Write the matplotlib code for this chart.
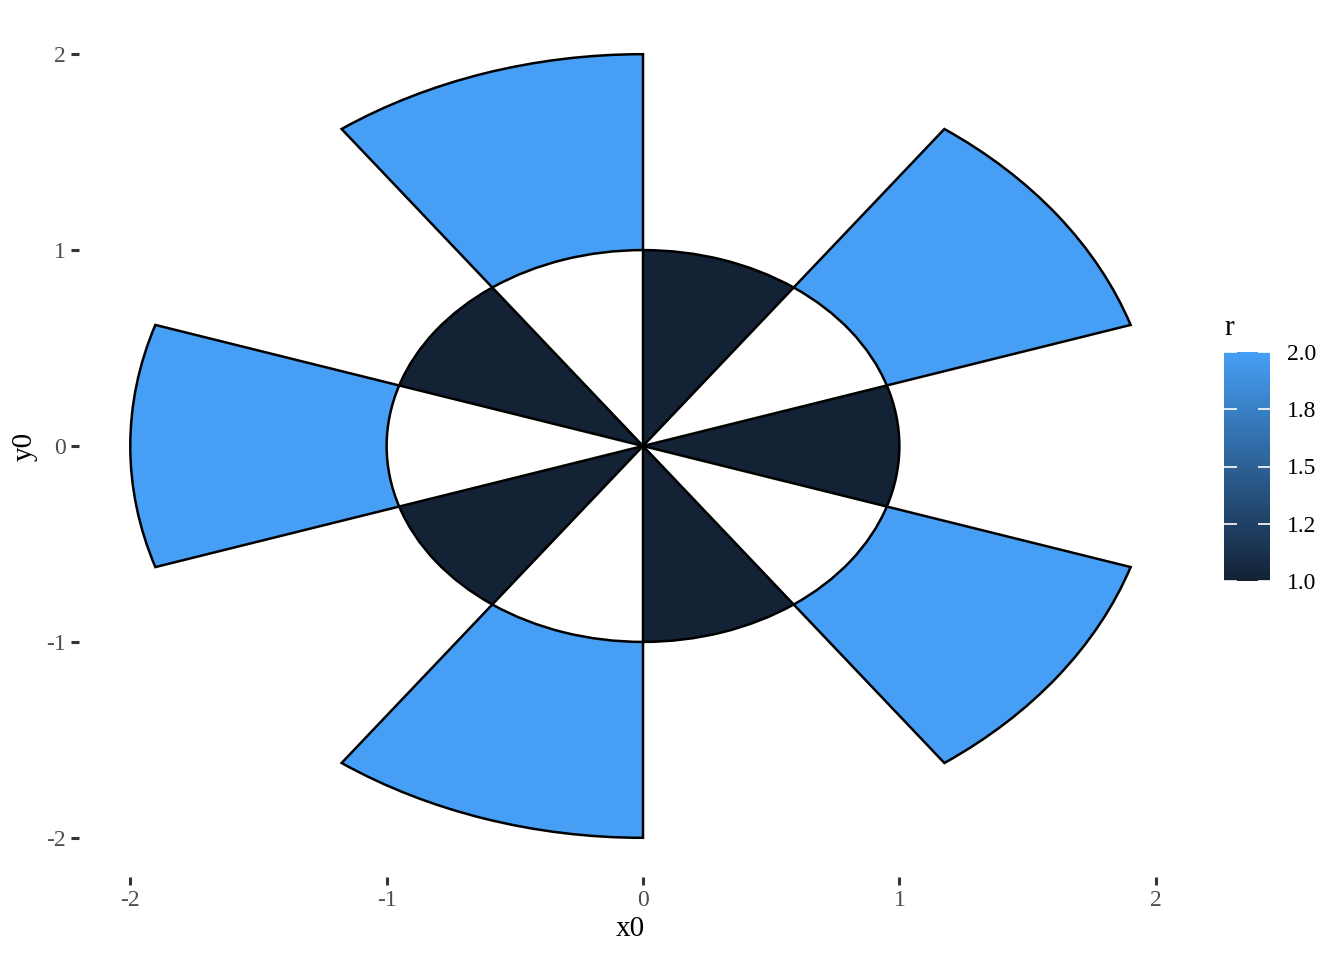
import matplotlib
matplotlib.use('Agg')
import matplotlib.pyplot as plt
from matplotlib.patches import Wedge
from matplotlib.colors import LinearSegmentedColormap, Normalize
from matplotlib.cm import ScalarMappable

# secteurs : angle de départ (sens horaire depuis midi), rayon intérieur, rayon extérieur
start_deg = [0, 36, 72, 108, 144, 180, 216, 252, 288, 324]
end_deg = [36, 72, 108, 144, 180, 216, 252, 288, 324, 360]
r0 = [0, 1, 0, 1, 0, 1, 0, 1, 0, 1]
r = [1, 2, 1, 2, 1, 2, 1, 2, 1, 2]

x_ticks = [-2, -1, 0, 1, 2]
y_ticks = [-2, -1, 0, 1, 2]
cbar_ticks = [1.0, 1.25, 1.5, 1.75, 2.0]
cbar_labels = ['1.0', '1.2', '1.5', '1.8', '2.0']

plt.rcParams['font.family'] = ['Liberation Serif', 'DejaVu Serif']

cmap = LinearSegmentedColormap.from_list('gg', ['#132235', '#469FF5'])
norm = Normalize(1, 2)

fig = plt.figure(figsize=(13.44, 9.6), dpi=100, facecolor='white')
ax = fig.add_axes([79 / 1344, 1 - 877 / 960, (1207 - 79) / 1344, (877 - 15) / 960])

for a, b, ri, ro in zip(start_deg, end_deg, r0, r):
    # conversion vers l'angle mathématique (anti-horaire depuis l'axe x)
    w = Wedge((0, 0), ro, 90 - b, 90 - a, width=ro - ri,
              facecolor=cmap(norm(ro)), edgecolor='black', lw=1.8)
    ax.add_patch(w)

ax.set_xlim(-2.2, 2.2)
ax.set_ylim(-2.2, 2.2)
ax.set_xticks(x_ticks)
ax.set_yticks(y_ticks)
ax.set_xticklabels([str(t) for t in x_ticks])
ax.set_yticklabels([str(t) for t in y_ticks])
for s in ax.spines.values():
    s.set_visible(False)
ax.tick_params(length=5.5, width=2.2, color='#333333', labelsize=17, labelcolor='#4d4d4d', pad=4)
ax.set_xlabel('x0', fontsize=21, labelpad=6)
ax.xaxis.set_label_coords(0.4885, -0.045, transform=ax.transAxes)
ax.xaxis.label.set_verticalalignment('top')
ax.set_ylabel('y0', fontsize=21, labelpad=6)

# barre de couleur
cax = fig.add_axes([1224 / 1344, 1 - 581 / 960, 46 / 1344, (581 - 352) / 960])
cb = fig.colorbar(ScalarMappable(norm=norm, cmap=cmap), cax=cax)
cb.outline.set_visible(False)
cb.set_ticks(cbar_ticks)
cb.set_ticklabels(cbar_labels)
cax.tick_params(direction='in', color='white', length=9, width=1.2,
                left=True, right=True, labelsize=17, labelcolor='black', pad=12)
cax.set_title('r', fontsize=21, loc='left', pad=12)

fig.savefig('out.png', dpi=100, facecolor='white')
